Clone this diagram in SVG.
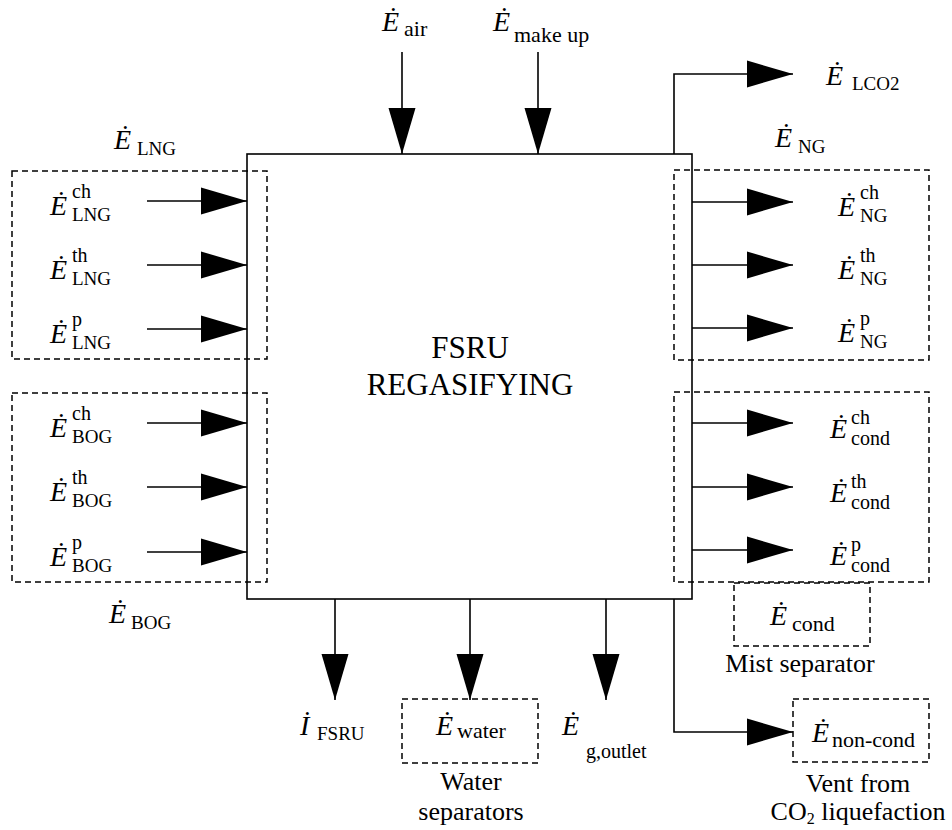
<svg xmlns="http://www.w3.org/2000/svg" width="952" height="830" viewBox="0 0 952 830">
<defs>
<style>
.ln{fill:none;stroke:#000;stroke-width:1.6}
.dash{fill:none;stroke:#000;stroke-width:1.5;stroke-dasharray:6,4}
.E{font-family:"Liberation Serif",serif;font-style:italic;font-size:28px;fill:#000}
.s{font-family:"Liberation Serif",serif;font-size:20px;fill:#000}
.S{font-family:"Liberation Serif",serif;font-size:19px;fill:#000}
.b{font-family:"Liberation Serif",serif;font-size:22px;fill:#000}
.t{font-family:"Liberation Serif",serif;font-size:26px;fill:#000;text-anchor:middle}
.c{font-family:"Liberation Serif",serif;font-size:31px;fill:#000;text-anchor:middle}
</style>
<marker id="ah" markerUnits="userSpaceOnUse" markerWidth="47" markerHeight="28" refX="46" refY="14" orient="auto" viewBox="0 0 47 28">
<path d="M0,0.5 L46,14 L0,27.5 z" fill="#000"/>
</marker>
</defs>
<rect width="952" height="830" fill="#fff"/>

<g id="fsru">
<rect x="247" y="154" width="445" height="445" class="ln"/>
<text class="c" x="470" y="358">FSRU</text>
<text class="c" x="470" y="395">REGASIFYING</text>
</g>

<g id="lng-group">
<rect x="12" y="171" width="255" height="188" class="dash"/>
<text class="E" x="114" y="149">Ė</text><text class="S" x="137" y="155">LNG</text>
<text class="E" x="50" y="215">Ė</text><text class="s" x="72" y="198">ch</text><text class="S" x="72" y="221">LNG</text>
<text class="E" x="50" y="279">Ė</text><text class="s" x="72" y="262">th</text><text class="S" x="72" y="285">LNG</text>
<text class="E" x="50" y="343">Ė</text><text class="s" x="72" y="326">p</text><text class="S" x="72" y="349">LNG</text>
</g>

<g id="bog-group">
<rect x="12" y="393" width="255" height="189" class="dash"/>
<text class="E" x="109" y="623">Ė</text><text class="S" x="131" y="629">BOG</text>
<text class="E" x="50" y="437">Ė</text><text class="s" x="72" y="420">ch</text><text class="S" x="72" y="443">BOG</text>
<text class="E" x="50" y="501">Ė</text><text class="s" x="72" y="484">th</text><text class="S" x="72" y="507">BOG</text>
<text class="E" x="50" y="566">Ė</text><text class="s" x="72" y="549">p</text><text class="S" x="72" y="572">BOG</text>
</g>

<g id="ng-group">
<rect x="674" y="170" width="255" height="190" class="dash"/>
<text class="E" x="775" y="147">Ė</text><text class="S" x="798" y="153">NG</text>
<text class="E" x="838" y="216">Ė</text><text class="s" x="860" y="199">ch</text><text class="S" x="860" y="222">NG</text>
<text class="E" x="838" y="279">Ė</text><text class="s" x="860" y="262">th</text><text class="S" x="860" y="285">NG</text>
<text class="E" x="838" y="342">Ė</text><text class="s" x="860" y="325">p</text><text class="S" x="860" y="348">NG</text>
</g>

<g id="cond-group">
<rect x="674" y="392" width="255" height="190" class="dash"/>
<text class="E" x="830" y="438">Ė</text><text class="s" x="851" y="424">ch</text><text class="s" x="851" y="445">cond</text>
<text class="E" x="830" y="502">Ė</text><text class="s" x="851" y="488">th</text><text class="s" x="851" y="509">cond</text>
<text class="E" x="830" y="565">Ė</text><text class="s" x="851" y="551">p</text><text class="s" x="851" y="572">cond</text>
</g>

<g id="mist-separator">
<rect x="734" y="583" width="136" height="63" class="dash"/>
<text class="E" x="770" y="625">Ė</text><text class="b" x="792" y="631" font-size="21">cond</text>
<text class="t" x="800" y="672">Mist separator</text>
</g>

<g id="vent">
<rect x="793" y="699" width="136" height="63" class="dash"/>
<text class="E" x="812" y="742">Ė</text><text class="b" x="832" y="747">non-cond</text>
<text class="t" x="858" y="792">Vent from</text>
<text class="t" x="858" y="820" font-size="25">CO<tspan font-size="16" dy="4">2</tspan><tspan dy="-4"> liquefaction</tspan></text>
</g>

<g id="water-separators">
<rect x="402" y="699" width="136" height="64" class="dash"/>
<text class="E" x="436" y="735">Ė</text><text class="b" x="457" y="738">water</text>
<text class="t" x="471" y="790">Water</text>
<text class="t" x="471" y="820">separators</text>
</g>

<g id="irreversibility">
<text class="E" x="300" y="735">İ</text><text class="S" x="317" y="740">FSRU</text>
</g>

<g id="g-outlet">
<text class="E" x="562" y="735">Ė</text><text class="s" x="586" y="758">g,outlet</text>
</g>

<g id="air">
<text class="E" x="382" y="31">Ė</text><text class="b" x="404" y="36">air</text>
</g>

<g id="make-up">
<text class="E" x="493" y="31">Ė</text><text class="b" x="514" y="42">make up</text>
</g>

<g id="lco2">
<text class="E" x="826" y="85">Ė</text><text class="S" x="852" y="90" font-size="17.5">LCO2</text>
</g>

<g id="connectors">
<line class="ln" x1="147" y1="201" x2="247" y2="201" marker-end="url(#ah)"/>
<line class="ln" x1="147" y1="265" x2="247" y2="265" marker-end="url(#ah)"/>
<line class="ln" x1="147" y1="329" x2="247" y2="329" marker-end="url(#ah)"/>
<line class="ln" x1="147" y1="423" x2="247" y2="423" marker-end="url(#ah)"/>
<line class="ln" x1="147" y1="487" x2="247" y2="487" marker-end="url(#ah)"/>
<line class="ln" x1="147" y1="552" x2="247" y2="552" marker-end="url(#ah)"/>
<line class="ln" x1="692" y1="202" x2="793" y2="202" marker-end="url(#ah)"/>
<line class="ln" x1="692" y1="265" x2="793" y2="265" marker-end="url(#ah)"/>
<line class="ln" x1="692" y1="328" x2="793" y2="328" marker-end="url(#ah)"/>
<line class="ln" x1="692" y1="423" x2="793" y2="423" marker-end="url(#ah)"/>
<line class="ln" x1="692" y1="487" x2="793" y2="487" marker-end="url(#ah)"/>
<line class="ln" x1="692" y1="550" x2="793" y2="550" marker-end="url(#ah)"/>
<polyline class="ln" points="674,154 674,74 793,74" marker-end="url(#ah)"/>
<polyline class="ln" points="674,599 674,732 793,732" marker-end="url(#ah)"/>
<line class="ln" x1="402" y1="52" x2="402" y2="154" marker-end="url(#ah)"/>
<line class="ln" x1="538" y1="52" x2="538" y2="154" marker-end="url(#ah)"/>
<line class="ln" x1="335" y1="599" x2="335" y2="700" marker-end="url(#ah)"/>
<line class="ln" x1="470" y1="599" x2="470" y2="700" marker-end="url(#ah)"/>
<line class="ln" x1="606" y1="599" x2="606" y2="700" marker-end="url(#ah)"/>
</g>
</svg>
